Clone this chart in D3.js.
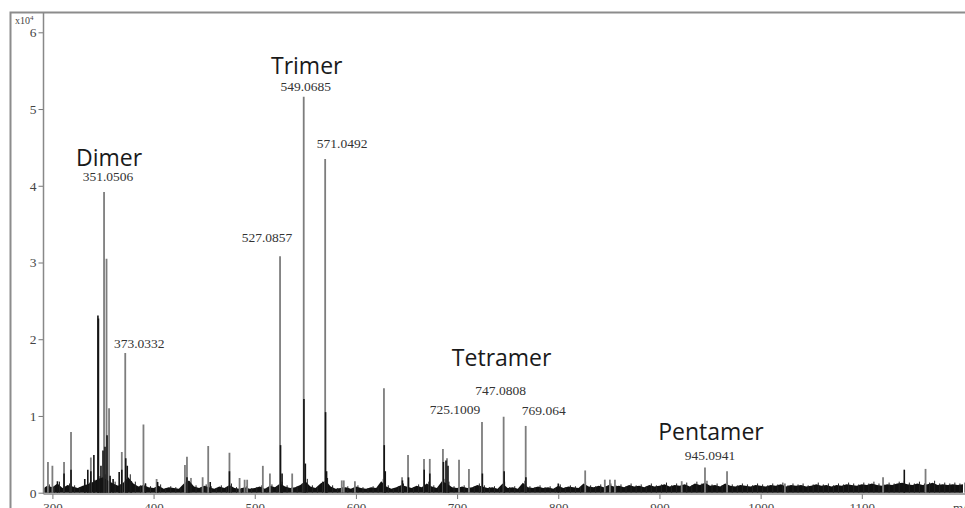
<!DOCTYPE html>
<html>
<head>
<meta charset="utf-8">
<script src="https://cdn.jsdelivr.net/npm/d3@7"></script>
<style>
	html, body { margin: 0; padding: 0; background: #fff; }
	svg { display: block; }
	.tick text { font-family: 'Liberation Serif', serif; fill: #444; }
	.tick line { stroke: #777; }
	.domain { display: none; }
</style>
</head>
<body>
<svg id="chart" width="965" height="508"></svg>
<script>
// m/z ticks and intensity ticks (x10^4)
const xMajorTicks = [300, 400, 500, 600, 700, 800, 900, 1000, 1100]
const yMajorTicks = [0, 1, 2, 3, 4, 5, 6]

// tall peaks, drawn grey: [m/z, intensity x10^4]
const greyPeaks = [
	[295.6, 0.40], [300, 0.35], [311.5, 0.40], [318.4, 0.79], [338, 0.46],
	[351.05, 3.92], [353.5, 3.05], [356, 1.10], [368.6, 0.53], [372, 1.82],
	[390, 0.89], [403, 0.18], [431, 0.36], [433, 0.47], [448.5, 0.20],
	[454, 0.61], [475, 0.52], [485, 0.19], [490, 0.17], [492.5, 0.17],
	[508, 0.35], [515, 0.25], [525, 3.08], [537, 0.25], [548.4, 5.16],
	[569.6, 4.35], [586, 0.16], [588, 0.16], [599, 0.15], [627.7, 1.36],
	[645.6, 0.20], [651.5, 0.49], [667.3, 0.44], [673, 0.44], [686, 0.57],
	[690, 0.45], [701.9, 0.43], [711.7, 0.31], [724.6, 0.92], [746, 0.99],
	[767.8, 0.87], [826.6, 0.29], [846, 0.17], [851, 0.17], [856, 0.17],
	[922, 0.15], [945, 0.33], [966.8, 0.28], [1024, 0.12], [1121, 0.20],
	[1163, 0.31]
]

// dark peak cores: [m/z, intensity x10^4]
const blackPeaks = [
	[305, 0.15], [311.5, 0.25], [318.4, 0.30], [332, 0.18], [335, 0.30],
	[338, 0.28], [341, 0.49], [345.0, 2.31], [345.5, 2.27], [348, 0.35],
	[350, 0.55], [352, 0.60], [354, 0.75], [357, 0.22], [360, 0.18],
	[366, 0.27], [368.6, 0.30], [372.5, 0.45], [374, 0.35], [378, 0.15],
	[392, 0.12], [404, 0.14], [433, 0.20], [435, 0.15], [456, 0.14],
	[475, 0.28], [525.5, 0.62], [527, 0.25], [548.6, 1.22], [550, 0.38],
	[570, 1.05], [571, 0.28], [628, 0.62], [629, 0.28], [646, 0.16],
	[652, 0.20], [667.5, 0.30], [673, 0.25], [686.5, 0.40], [689, 0.42],
	[691, 0.35], [725, 0.25], [746.5, 0.28], [768, 0.20], [800, 0.12],
	[1142, 0.30]
]

// baseline noise band, every 5 m/z from 290 to 1200
const baselineStart = 290
const baselineStep = 5
const baseline = [
	0.05, 0.09, 0.07, 0.12, 0.06, 0.10, 0.08, 0.06, 0.09, 0.11,
	0.14, 0.18, 0.20, 0.16, 0.12, 0.09, 0.13, 0.20, 0.12, 0.08,
	0.10, 0.07, 0.06, 0.09, 0.05, 0.07, 0.06, 0.05, 0.12, 0.16,
	0.08, 0.06, 0.09, 0.07, 0.05, 0.08, 0.06, 0.10, 0.06, 0.05,
	0.07, 0.05, 0.06, 0.08, 0.05, 0.09, 0.07, 0.12, 0.08, 0.06,
	0.07, 0.10, 0.15, 0.08, 0.06, 0.12, 0.16, 0.08, 0.05, 0.06,
	0.07, 0.05, 0.08, 0.06, 0.05, 0.07, 0.06, 0.15, 0.08, 0.05,
	0.07, 0.10, 0.08, 0.06, 0.09, 0.07, 0.12, 0.08, 0.06, 0.15,
	0.12, 0.07, 0.06, 0.08, 0.06, 0.07, 0.10, 0.08, 0.06, 0.07,
	0.05, 0.12, 0.06, 0.07, 0.05, 0.13, 0.07, 0.06, 0.08, 0.06,
	0.07, 0.05, 0.09, 0.06, 0.08, 0.07, 0.06, 0.12, 0.08, 0.07,
	0.09, 0.07, 0.10, 0.08, 0.09, 0.07, 0.10, 0.08, 0.09, 0.07,
	0.10, 0.08, 0.09, 0.11, 0.08, 0.10, 0.09, 0.11, 0.08, 0.12,
	0.10, 0.13, 0.09, 0.10, 0.08, 0.12, 0.09, 0.08, 0.10, 0.09,
	0.08, 0.10, 0.09, 0.08, 0.10, 0.09, 0.11, 0.08, 0.10, 0.09,
	0.10, 0.08, 0.09, 0.11, 0.09, 0.10, 0.08, 0.10, 0.09, 0.11,
	0.10, 0.09, 0.11, 0.10, 0.12, 0.10, 0.09, 0.11, 0.10, 0.12,
	0.13, 0.11, 0.10, 0.12, 0.10, 0.11, 0.13, 0.10, 0.11, 0.10,
	0.11, 0.10, 0.11
]

// annotated peaks
const peakLabels = ['351.0506', '373.0332', '527.0857', '549.0685', '571.0492',
	'725.1009', '747.0808', '769.064', '945.0941']
const peakLabelMz = [351.05, 372, 525, 548.4, 569.6, 724.6, 746, 767.8, 945]
const peakLabelHeight = [3.92, 1.82, 3.08, 5.16, 4.35, 0.92, 0.99, 0.87, 0.33]

const groupNames = ['Dimer', 'Trimer', 'Tetramer', 'Pentamer']
const groupPeak = ['351.0506', '549.0685', '747.0808', '945.0941']

// label nudges in pixels [dx, dy] from the top of the peak
const peakLabelOffsets = {
	'351.0506': [4, -11], '373.0332': [14, -5], '527.0857': [-13, -14],
	'549.0685': [2, -6], '571.0492': [17, -11], '725.1009': [-27, -8],
	'747.0808': [-3, -22], '769.064': [18, -11], '945.0941': [5, -7]
}
const groupLabelDy = { 'Dimer': -15, 'Trimer': -17, 'Tetramer': -29, 'Pentamer': -20 }

const width = 965
const height = 508
const plotLeft = 43.5
const plotTop = 13
const axisY = 494

const svg = d3.select('#chart')

const x = d3.scaleLinear()
	.domain([300, 1100])
	.range([52.4, 861.8])

const y = d3.scaleLinear()
	.domain([0, 6])
	.range([492.7, 32.3])

// clip for the spectrum
svg.append('clipPath').attr('id', 'plot-clip')
	.append('rect')
		.attr('x', plotLeft + 1)
		.attr('y', plotTop)
		.attr('width', width - plotLeft)
		.attr('height', axisY - plotTop)

// outer frame
svg.append('rect')
	.attr('x', 10.5)
	.attr('y', 12.5)
	.attr('width', width + 10)
	.attr('height', height + 10)
	.attr('fill', 'none')
	.attr('stroke', '#8c8c8c')
	.attr('stroke-width', 2)

const spectrum = svg.append('g').attr('clip-path', 'url(#plot-clip)')

// baseline band
const baselinePoints = baseline.map((v, i) => [baselineStart + i * baselineStep, v])
spectrum.append('path')
	.datum(baselinePoints)
	.attr('fill', '#111')
	.attr('d', d3.area()
		.x((d) => x(d[0]))
		.y0(y(0))
		.y1((d) => y(d[1])))

spectrum.selectAll('line.noise')
	.data(baselinePoints)
	.enter().append('line')
		.attr('class', 'noise')
		.attr('x1', (d) => x(d[0]) + 2)
		.attr('x2', (d) => x(d[0]) + 2)
		.attr('y1', y(0))
		.attr('y2', (d) => y(d[1] * 1.2))
		.attr('stroke', '#222')
		.attr('stroke-width', 1)

spectrum.selectAll('line.grey-peak')
	.data(greyPeaks)
	.enter().append('line')
		.attr('class', 'grey-peak')
		.attr('x1', (d) => x(d[0]))
		.attr('x2', (d) => x(d[0]))
		.attr('y1', y(0))
		.attr('y2', (d) => y(d[1]))
		.attr('stroke', '#7d7d7d')
		.attr('stroke-width', 1.8)

spectrum.selectAll('line.black-peak')
	.data(blackPeaks)
	.enter().append('line')
		.attr('class', 'black-peak')
		.attr('x1', (d) => x(d[0]))
		.attr('x2', (d) => x(d[0]))
		.attr('y1', y(0))
		.attr('y2', (d) => y(d[1]))
		.attr('stroke', '#141414')
		.attr('stroke-width', 1.6)

// y axis
const yAxis = svg.append('g').attr('transform', `translate(${plotLeft},0)`)
yAxis.call(d3.axisLeft(y)
	.tickValues(d3.range(0, 6.01, 0.2).filter((v) => Math.abs(v - Math.round(v)) > 0.01))
	.tickSize(3)
	.tickFormat(''))
yAxis.call(d3.axisLeft(y)
	.tickValues(yMajorTicks)
	.tickSize(5)
	.tickPadding(2)
	.tickFormat(d3.format('d')))
yAxis.selectAll('.tick text').attr('font-size', 13.5)
svg.append('line')
	.attr('x1', plotLeft).attr('x2', plotLeft)
	.attr('y1', plotTop).attr('y2', axisY)
	.attr('stroke', '#888').attr('stroke-width', 1.5)

svg.append('text')
	.attr('x', 15)
	.attr('y', 24)
	.attr('font-family', 'Liberation Serif, serif')
	.attr('font-size', 10)
	.attr('fill', '#444')
	.text('x10')
	.append('tspan')
		.attr('dy', -4)
		.attr('font-size', 7)
		.text('4')

// x axis
const xAxis = svg.append('g').attr('transform', `translate(0,${axisY})`)
xAxis.call(d3.axisBottom(x)
	.tickValues(d3.range(300, 1201, 20).filter((v) => v % 100 !== 0))
	.tickSize(3)
	.tickFormat(''))
xAxis.call(d3.axisBottom(x)
	.tickValues(xMajorTicks)
	.tickSize(5)
	.tickPadding(4)
	.tickFormat(d3.format('d')))
xAxis.selectAll('.tick text').attr('font-size', 13)
svg.append('line')
	.attr('x1', plotLeft).attr('x2', width)
	.attr('y1', axisY).attr('y2', axisY)
	.attr('stroke', '#888').attr('stroke-width', 1.5)

svg.append('text')
	.attr('x', 953)
	.attr('y', 512)
	.attr('font-family', 'Liberation Serif, serif')
	.attr('font-size', 13)
	.attr('fill', '#444')
	.text('m/z')

// peak labels
const labelPos = {}
peakLabels.forEach((label, i) => {
	const off = peakLabelOffsets[label]
	const px = x(peakLabelMz[i]) + off[0]
	const py = y(peakLabelHeight[i]) + off[1]
	labelPos[label] = [px, py]
	svg.append('text')
		.attr('x', px)
		.attr('y', py)
		.attr('text-anchor', 'middle')
		.attr('font-family', 'Liberation Serif, serif')
		.attr('font-size', 13.5)
		.attr('fill', '#333')
		.text(label)
})

groupNames.forEach((name, i) => {
	const p = labelPos[groupPeak[i]]
	svg.append('text')
		.attr('x', p[0] + 1)
		.attr('y', p[1] + groupLabelDy[name])
		.attr('text-anchor', 'middle')
		.attr('font-family', 'Open Sans, sans-serif')
		.attr('font-size', 23)
		.attr('fill', '#1a1a1a')
		.text(name)
})
</script>
</body>
</html>
